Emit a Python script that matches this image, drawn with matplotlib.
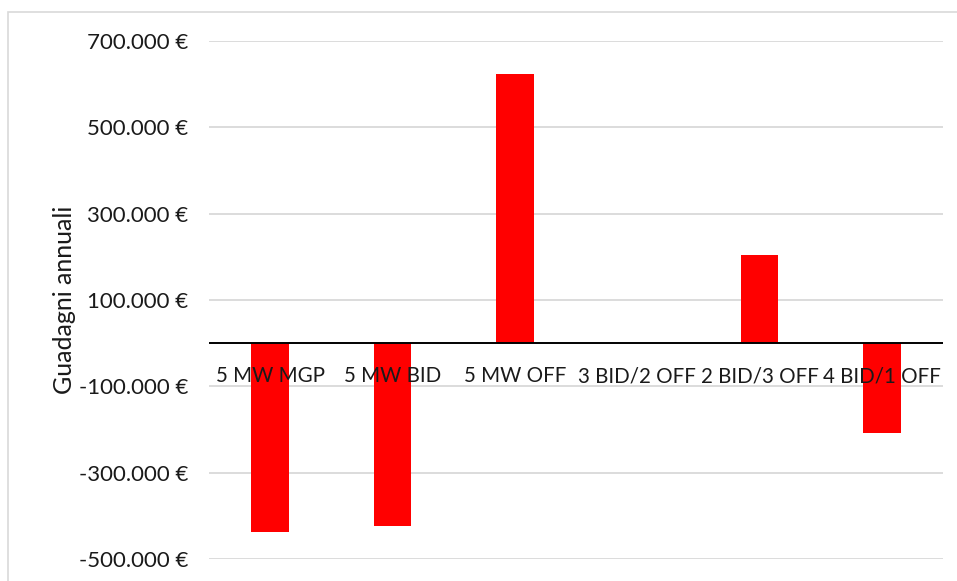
import matplotlib
matplotlib.use("Agg")
import matplotlib.pyplot as plt
from matplotlib.patches import Rectangle
from matplotlib.ticker import FuncFormatter

categories = ["5 MW MGP", "5 MW BID", "5 MW OFF", "3 BID/2 OFF", "2 BID/3 OFF", "4 BID/1 OFF"]
gains = [-437000, -424000, 623000, 0, 204000, -209000]
y_ticks = [-500000, -300000, -100000, 100000, 300000, 500000, 700000]

plt.rcParams["font.family"] = ["Lato", "DejaVu Sans"]

W, H = 957, 581
fig = plt.figure(figsize=(W / 100, H / 100), dpi=100)
fig.patch.set_facecolor("white")

# chart area frame
fig.patches.append(Rectangle((8 / W, -0.1), 1.2, (H - 12) / H + 0.1,
                             transform=fig.transFigure, fill=False,
                             edgecolor="#d9d9d9", linewidth=1.2))

ax = fig.add_axes([209 / W, 22 / H, 734 / W, 518 / H])
x = list(range(len(categories)))
ax.bar(x, gains, width=0.31, color="#ff0000", zorder=2)

ax.set_xlim(-0.5, len(categories) - 0.5)
ax.set_ylim(-500000, 700000)
ax.set_yticks(y_ticks)
ax.yaxis.set_major_formatter(FuncFormatter(
    lambda v, p: f"{int(v):,} €".replace(",", ".")))
ax.tick_params(axis="y", length=0, pad=15, labelsize=16, labelcolor="#1a1a1a")
ax.set_xticks([])
ax.grid(axis="y", color="#d9d9d9", linewidth=1.3, zorder=0)
for s in ax.spines.values():
    s.set_visible(False)
ax.axhline(0, color="black", linewidth=1.4, zorder=3)

for xi, name in zip(x, categories):
    ax.annotate(name, (xi, 0), xytext=(0, -31), textcoords="offset points",
                ha="center", va="bottom", fontsize=14.8, color="#1a1a1a", zorder=4)

ax.set_ylabel("Guadagni annuali", fontsize=18, color="#1a1a1a", labelpad=2)

fig.savefig("out.png", dpi=100)
